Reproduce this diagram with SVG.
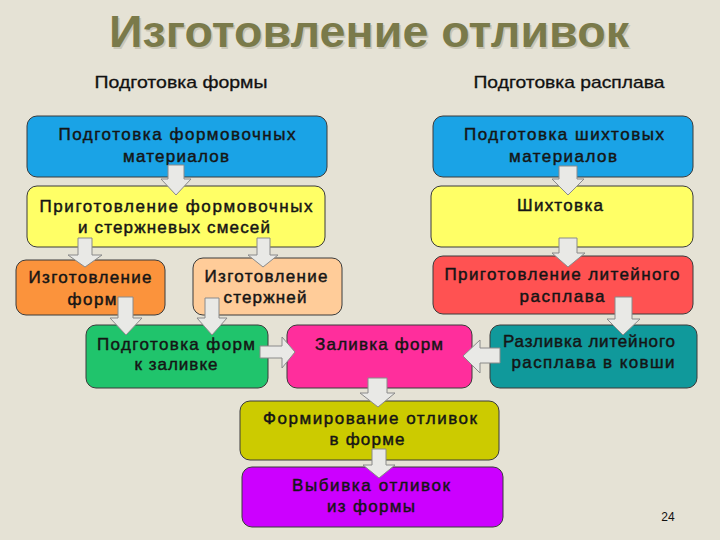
<svg xmlns="http://www.w3.org/2000/svg" width="720" height="540" viewBox="0 0 720 540">
<style>
.bg{fill:#e5e2d5}
.box{stroke:#3a3a3a;stroke-width:1}
.t{font-family:"Liberation Sans",Arial,sans-serif;font-size:17px;fill:#151515;stroke:#151515;stroke-width:0.45;text-anchor:middle}
.h{font-family:"Liberation Sans",Arial,sans-serif;font-size:17px;fill:#111;stroke:#111;stroke-width:0.3;text-anchor:middle}
.title{font-family:"Liberation Sans",Arial,sans-serif;font-size:44px;font-weight:bold;fill:#7a7a4a;text-anchor:middle}
.arr{fill:#e9e9e6;stroke:#8a8a8a;stroke-width:1;stroke-linejoin:miter}
</style>
<rect class="bg" x="0" y="0" width="720" height="540"/>
<g id="title">
<text class="title" x="369" y="47" textLength="520" lengthAdjust="spacingAndGlyphs" style="fill:#c9c6b6" dx="1.5" dy="1.5">Изготовление отливок</text>
<text class="title" x="369" y="47" textLength="520" lengthAdjust="spacingAndGlyphs">Изготовление отливок</text>
</g>
<g id="headings">
<text class="h" x="181" y="88" textLength="173" lengthAdjust="spacingAndGlyphs">Подготовка формы</text>
<text class="h" x="569" y="88" textLength="191" lengthAdjust="spacingAndGlyphs">Подготовка расплава</text>
</g>
<g id="n1"><rect class="box" x="27" y="116" width="300" height="61" rx="10" fill="#1aa3e6"/>
<text class="t" x="177" y="140" textLength="237">Подготовка формовочных</text>
<text class="t" x="176" y="162" textLength="106">материалов</text></g>
<g id="n2"><rect class="box" x="27" y="186" width="298" height="61" rx="10" fill="#ffff66"/>
<text class="t" x="176" y="212" textLength="273">Приготовление формовочных</text>
<text class="t" x="174" y="233" textLength="192">и стержневых смесей</text></g>
<g id="n3"><rect class="box" x="433" y="116" width="260" height="61" rx="10" fill="#1aa3e6"/>
<text class="t" x="564" y="140" textLength="200">Подготовка шихтовых</text>
<text class="t" x="563" y="162" textLength="108">материалов</text></g>
<g id="n4"><rect class="box" x="431" y="186" width="262" height="61" rx="10" fill="#ffff66"/>
<text class="t" x="560" y="211" textLength="86">Шихтовка</text></g>
<g id="n5"><rect class="box" x="16" y="260" width="149" height="55" rx="10" fill="#fb933c"/>
<text class="t" x="90" y="283" textLength="123">Изготовление</text>
<text class="t" x="92" y="305" textLength="49">форм</text></g>
<g id="n6"><rect class="box" x="193" y="258" width="149" height="57" rx="10" fill="#ffcc99"/>
<text class="t" x="266" y="282" textLength="123">Изготовление</text>
<text class="t" x="265" y="303" textLength="83">стержней</text></g>
<g id="n7"><rect class="box" x="86" y="325" width="182" height="63" rx="10" fill="#20c46c"/>
<text class="t" x="176" y="350" textLength="158">Подготовка форм</text>
<text class="t" x="176" y="370" textLength="83">к заливке</text></g>
<g id="n8"><rect class="box" x="287" y="325" width="185" height="63" rx="10" fill="#ff2e9c"/>
<text class="t" x="379" y="350" textLength="128">Заливка форм</text></g>
<g id="n9"><rect class="box" x="433" y="256" width="260" height="58" rx="10" fill="#ff5252"/>
<text class="t" x="562" y="280" textLength="235">Приготовление литейного</text>
<text class="t" x="562" y="302" textLength="85">расплава</text></g>
<g id="n10"><rect class="box" x="490" y="325" width="207" height="63" rx="10" fill="#10999b"/>
<text class="t" x="589" y="347" textLength="172">Разливка литейного</text>
<text class="t" x="593" y="368" textLength="163">расплава в ковши</text></g>
<g id="n11"><rect class="box" x="240" y="401" width="259" height="59" rx="10" fill="#cccb00"/>
<text class="t" x="370" y="424" textLength="214">Формирование отливок</text>
<text class="t" x="367" y="445" textLength="75">в форме</text></g>
<g id="n12"><rect class="box" x="242" y="467" width="261" height="60" rx="10" fill="#cc00ff"/>
<text class="t" x="371" y="491" textLength="158">Выбивка отливок</text>
<text class="t" x="371" y="512" textLength="88">из формы</text></g>
<g id="connectors">
<polygon class="arr" points="168,165 184,165 184,179 191,179 176,195 161,179 168,179"/>
<polygon class="arr" points="559,166 577,166 577,179 584,179 568,195 552,179 559,179"/>
<polygon class="arr" points="78,238 92,238 92,255 102,255 85,267 68,255 78,255"/>
<polygon class="arr" points="257,238 270,238 270,255 278,255 263,267 248,255 257,255"/>
<polygon class="arr" points="118,297 133,297 133,318 142,318 126,335 110,318 118,318"/>
<polygon class="arr" points="205,298 219,298 219,318 227,318 212,335 197,318 205,318"/>
<polygon class="arr" points="559,238 577,238 577,253 585,253 568,267 552,253 559,253"/>
<polygon class="arr" points="615,297 632,297 632,319 640,319 623,335 607,319 615,319"/>
<polygon class="arr" points="260,346 282,346 282,337 295,352 282,368 282,358 260,358"/>
<polygon class="arr" points="500,348 480,348 480,340 463,356 480,373 480,363 500,363"/>
<polygon class="arr" points="368,378 387,378 387,393 395,393 378,407 360,393 368,393"/>
<polygon class="arr" points="372,449 386,449 386,465 395,465 379,478 363,465 372,465"/>
</g>
<text x="668" y="521" style="font-family:'Liberation Sans',Arial,sans-serif;font-size:12px;fill:#111;text-anchor:middle">24</text>
</svg>
